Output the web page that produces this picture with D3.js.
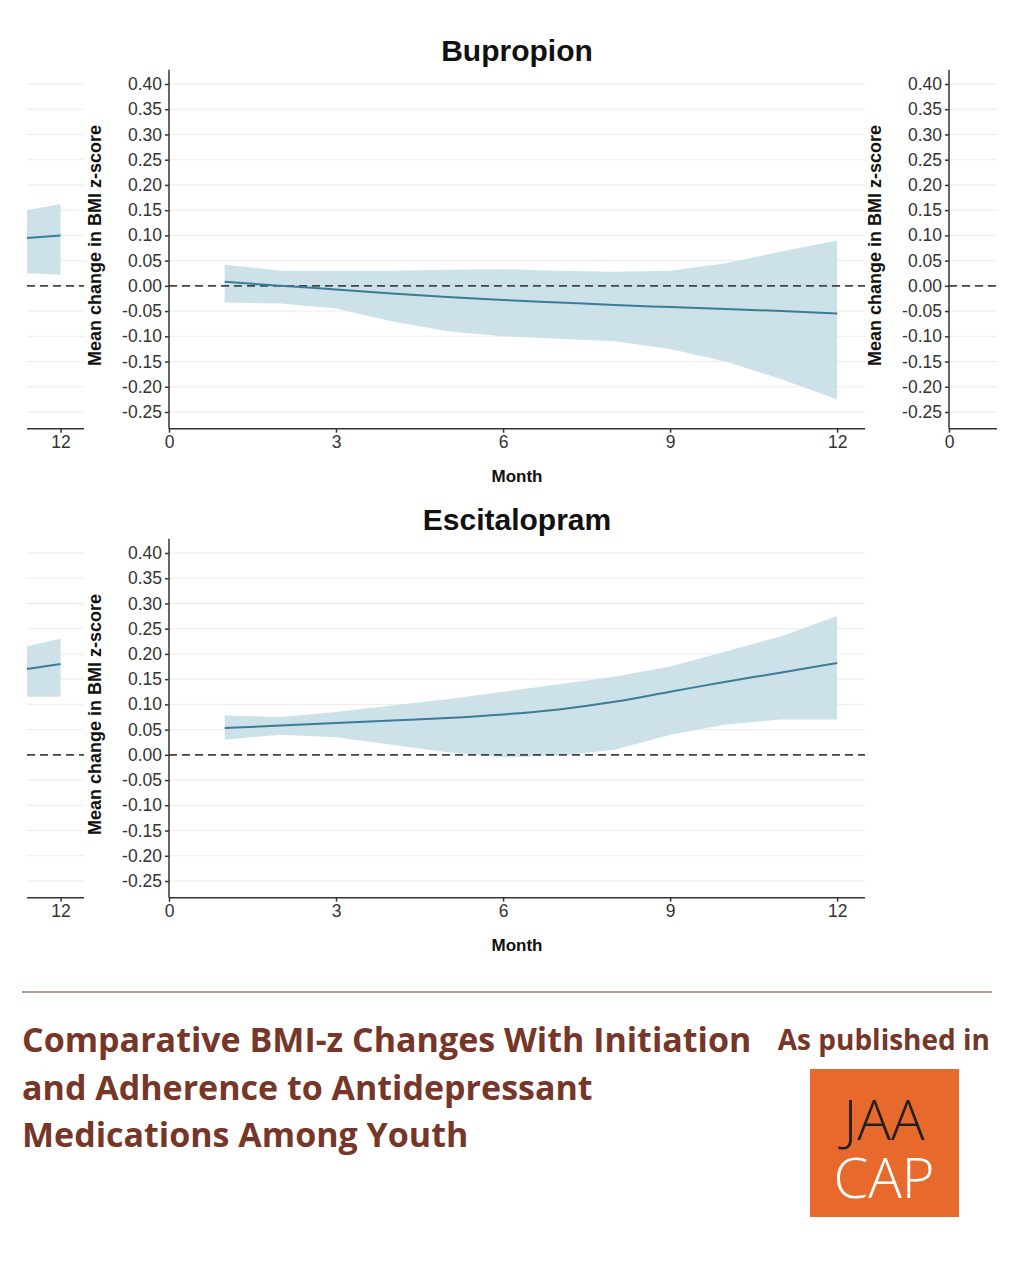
<!DOCTYPE html>
<html><head><meta charset="utf-8">
<script src="https://cdn.jsdelivr.net/npm/d3@7"></script>
<style>body{margin:0;background:#fff}</style>
</head><body>
<svg id="chart" width="1024" height="1280"></svg>
<script>
const months = [1,2,3,4,5,6,7,8,9,10,11,12];
const bupEst = [0.008,0.0,-0.007,-0.015,-0.022,-0.028,-0.033,-0.038,-0.042,-0.046,-0.050,-0.055];
const bupLo  = [-0.033,-0.035,-0.045,-0.070,-0.090,-0.100,-0.105,-0.110,-0.125,-0.150,-0.185,-0.225];
const bupHi  = [0.042,0.030,0.030,0.030,0.032,0.033,0.030,0.028,0.030,0.045,0.068,0.090];
const escEst = [0.053,0.058,0.063,0.068,0.073,0.080,0.090,0.105,0.125,0.145,0.163,0.182];
const escLo  = [0.030,0.040,0.035,0.020,0.005,-0.005,-0.002,0.010,0.040,0.060,0.070,0.070];
const escHi  = [0.078,0.075,0.085,0.098,0.110,0.125,0.140,0.155,0.175,0.205,0.235,0.275];
const edgeMonths = [11.4,12];
const bupEdgeEst = [0.095,0.100], bupEdgeLo = [0.025,0.022], bupEdgeHi = [0.150,0.162];
const escEdgeEst = [0.170,0.180], escEdgeLo = [0.115,0.115], escEdgeHi = [0.215,0.230];
const yTicks = [0.40,0.35,0.30,0.25,0.20,0.15,0.10,0.05,0,-0.05,-0.10,-0.15,-0.20,-0.25];
const xTicks = [0,3,6,9,12];

const svg = d3.select('#chart');
const font = 'Liberation Sans, Arial, sans-serif';

function panel(title, top, est, lo, hi, eEst, eLo, eHi, showRight) {
  // top = y of 0.40 tick
  const y = d3.scaleLinear().domain([0.40,-0.25]).range([top, top + 328]);
  const yBottom = y(-0.283), yTop = y(0.428);
  const x = d3.scaleLinear().domain([0,12.5]).range([169,865]);
  const xe = d3.scaleLinear().domain([11.4,12.4]).range([27,83]);
  const g = svg.append('g');
  const fmt = d => d.toFixed(2);
  const spans = showRight ? [[169,865],[27,84],[949,997]] : [[169,865],[27,84]];

  svg.append('text').attr('x',517).attr('y',top-23).attr('text-anchor','middle')
    .attr('font-family',font).attr('font-weight','bold').attr('font-size',30).attr('fill','#111').text(title);

  spans.forEach(([a,b]) => {
    g.selectAll(null).data(yTicks).enter().append('line')
      .attr('x1',a).attr('x2',b).attr('y1',d=>y(d)).attr('y2',d=>y(d))
      .attr('stroke','#ececec').attr('stroke-width',1);
  });

  const area = (xs, xsc, l, h) => d3.area().x((d,i)=>xsc(xs[i])).y0((d,i)=>y(l[i])).y1((d,i)=>y(h[i]))(xs);
  const line = (xs, xsc, e) => d3.line().x((d,i)=>xsc(xs[i])).y((d,i)=>y(e[i])).curve(d3.curveMonotoneX)(xs);

  g.append('path').attr('d',area(months,x,lo,hi)).attr('fill','#cde1e9');
  g.append('path').attr('d',area(edgeMonths,xe,eLo,eHi)).attr('fill','#cde1e9');

  spans.forEach(([a,b]) => {
    g.append('line').attr('x1',a).attr('x2',b).attr('y1',y(0)).attr('y2',y(0))
      .attr('stroke','#444').attr('stroke-width',1.6).attr('stroke-dasharray','8,5');
  });

  g.append('path').attr('d',line(months,x,est)).attr('fill','none').attr('stroke','#3b7c98').attr('stroke-width',2);
  g.append('path').attr('d',line(edgeMonths,xe,eEst)).attr('fill','none').attr('stroke','#3b7c98').attr('stroke-width',2);

  const ya = g.append('g').attr('transform','translate(169,0)')
    .call(d3.axisLeft(y).tickValues(yTicks).tickFormat(fmt).tickSize(4).tickSizeOuter(0));
  ya.select('.domain').attr('d',`M0,${yTop}V${yBottom}`);
  const xa = g.append('g').attr('transform',`translate(0,${yBottom})`)
    .call(d3.axisBottom(x).tickValues(xTicks).tickFormat(d3.format('d')).tickSize(4).tickSizeOuter(0));
  xa.select('.domain').attr('d','M169,0H865');
  const xea = g.append('g').attr('transform',`translate(0,${yBottom})`)
    .call(d3.axisBottom(xe).tickValues([12]).tickFormat(d3.format('d')).tickSize(4).tickSizeOuter(0));
  xea.select('.domain').attr('d','M27,0H84');

  if (showRight) {
    const ra = g.append('g').attr('transform','translate(949,0)')
      .call(d3.axisLeft(y).tickValues(yTicks).tickFormat(fmt).tickSize(4).tickSizeOuter(0));
    ra.select('.domain').attr('d',`M0,${yTop}V${yBottom}`);
    const xr = d3.scaleLinear().domain([0,1]).range([949,1005]);
    const rb = g.append('g').attr('transform',`translate(0,${yBottom})`)
      .call(d3.axisBottom(xr).tickValues([0]).tickFormat(d3.format('d')).tickSize(4).tickSizeOuter(0));
    rb.select('.domain').attr('d','M949,0H997');
    g.append('text').attr('transform',`translate(881,${y(0.08)}) rotate(-90)`).attr('text-anchor','middle')
      .attr('font-family',font).attr('font-weight','bold').attr('font-size',18).attr('fill','#111')
      .text('Mean change in BMI z-score');
  }
  g.selectAll('.tick text').attr('font-family',font).attr('font-size',17.5).attr('fill','#333');
  g.selectAll('.domain, .tick line').attr('stroke','#333').attr('stroke-width',1.5);

  g.append('text').attr('transform',`translate(101,${y(0.08)}) rotate(-90)`).attr('text-anchor','middle')
    .attr('font-family',font).attr('font-weight','bold').attr('font-size',18).attr('fill','#111')
    .text('Mean change in BMI z-score');
  g.append('text').attr('x',517).attr('y',yBottom+53).attr('text-anchor','middle')
    .attr('font-family',font).attr('font-weight','bold').attr('font-size',17).attr('fill','#111').text('Month');
}

panel('Bupropion', 84, bupEst, bupLo, bupHi, bupEdgeEst, bupEdgeLo, bupEdgeHi, true);
panel('Escitalopram', 553, escEst, escLo, escHi, escEdgeEst, escEdgeLo, escEdgeHi, false);

// footer
const brown = '#763628';
svg.append('line').attr('x1',22).attr('x2',992).attr('y1',992).attr('y2',992).attr('stroke',brown).attr('stroke-width',1.2);
const titleLines = ['Comparative BMI-z Changes With Initiation','and Adherence to Antidepressant','Medications Among Youth'];
svg.selectAll('.ft').data(titleLines).enter().append('text')
  .attr('x',22).attr('y',(d,i)=>1052+i*47.5)
  .attr('font-family','Open Sans, sans-serif').attr('font-weight','bold').attr('font-size',34)
  .attr('fill',brown).text(d=>d);
svg.append('text').attr('x',990).attr('y',1050).attr('text-anchor','end')
  .attr('font-family','Open Sans, sans-serif').attr('font-weight','bold').attr('font-size',28)
  .attr('fill',brown).text('As published in');
svg.append('rect').attr('x',810).attr('y',1069).attr('width',149).attr('height',148).attr('fill','#e8692c');
svg.append('text').attr('x',884).attr('y',1140).attr('text-anchor','middle')
  .attr('font-family','Open Sans, sans-serif').attr('font-weight',300).attr('font-size',56)
  .attr('fill','#231f20').text('JAA');
svg.append('text').attr('x',884).attr('y',1198).attr('text-anchor','middle')
  .attr('font-family','Open Sans, sans-serif').attr('font-weight',300).attr('font-size',56)
  .attr('fill','#fff').text('CAP');
</script>
</body></html>
